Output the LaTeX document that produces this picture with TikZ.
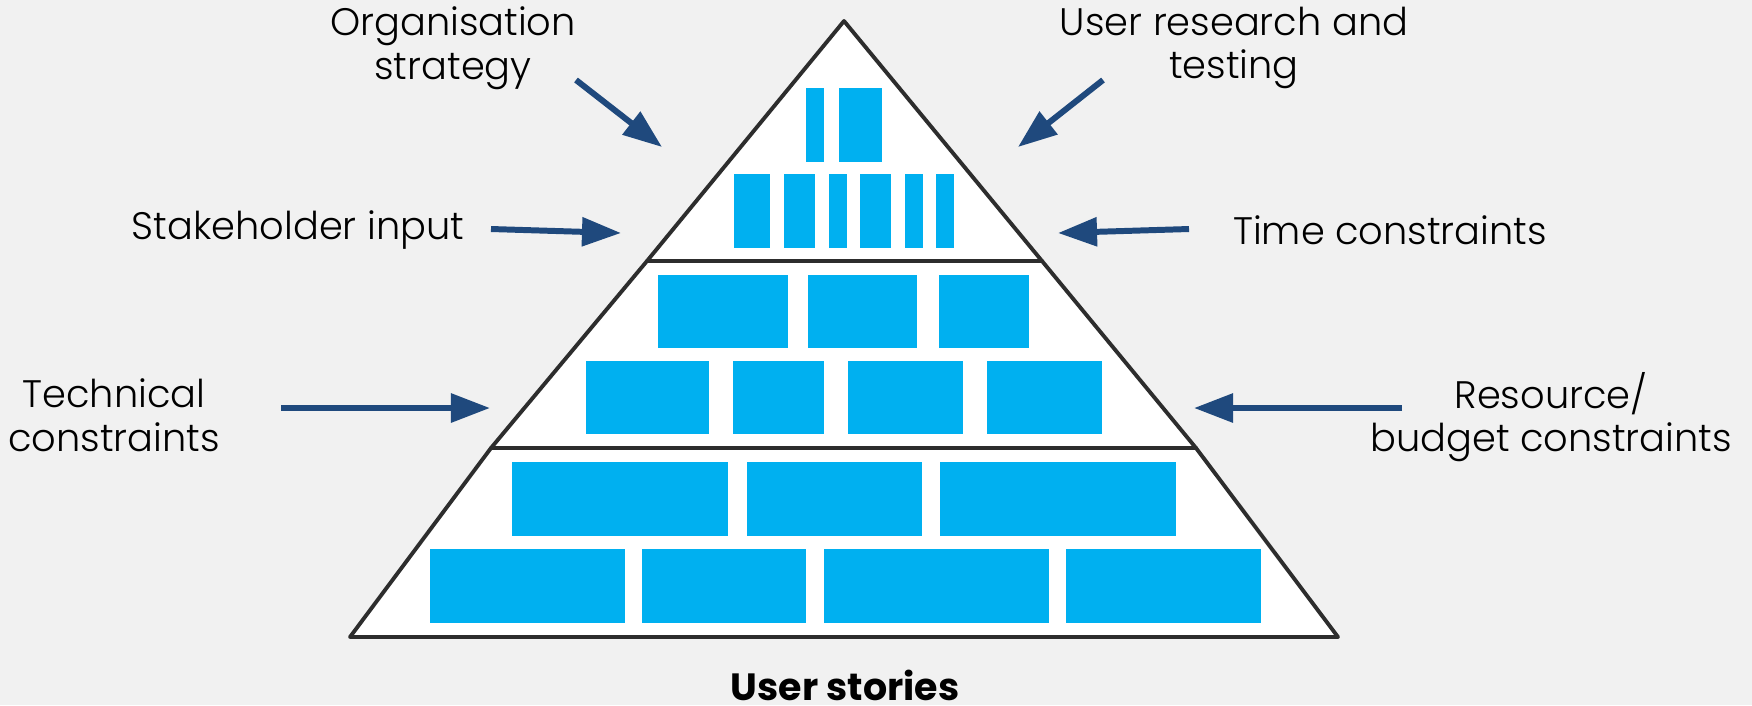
\documentclass[tikz,border=0pt]{standalone}
\usepackage{fontspec}
\setmainfont{Poppins}[UprightFont=* Light, BoldFont=* Bold]
\usetikzlibrary{arrows.meta,calc}
\definecolor{bggrey}{RGB}{241,241,241}
\definecolor{storyblue}{RGB}{0,176,240}
\definecolor{arrowblue}{RGB}{31,73,125}
\definecolor{edgegrey}{RGB}{45,45,45}
\tikzset{
  tier/.style  ={draw=edgegrey, fill=white, line width=1.1pt, line join=round},
  story/.style ={fill=storyblue},
  lbl/.style   ={align=center, font=\fontsize{10.9}{12.4}\selectfont, inner sep=0pt},
  inarr/.style ={-{Triangle[length=3.9mm,width=2.8mm]}, draw=arrowblue, line width=1.7pt},
}

\begin{document}
\begin{tikzpicture}[x=0.01cm, y=-0.01cm]
  \fill[bggrey] (0,0) rectangle (1752,705);
  \useasboundingbox (0,0) rectangle (1752,705);

  % pyramid corners
  \coordinate (apex) at (844,21);
  \coordinate (d1l) at (647,261);  \coordinate (d1r) at (1042,261);
  \coordinate (d2l) at (491,448);  \coordinate (d2r) at (1196,448);
  \coordinate (bl)  at (350,637);  \coordinate (br)  at (1338,637);

  \draw[tier] (apex) -- (d1l) -- (d1r) -- cycle;
  \draw[tier] (d1l) -- (d2l) -- (d2r) -- (d1r) -- cycle;
  \draw[tier] (d2l) -- (bl) -- (br) -- (d2r) -- cycle;

  % story cards, one row at a time
  \foreach \ya/\yb/\cols in {
      88/162/{806/824,839/882},
      174/248/{734/770,784/815,829/847,860/891,905/923,936/954},
      275/348/{658/788,808/917,939/1029},
      361/434/{586/709,733/824,848/963,987/1102},
      462/536/{512/728,747/922,940/1176},
      549/623/{430/625,642/806,824/1049,1066/1261}}
    \foreach \xa/\xb in \cols
      \fill[story] (\xa,\ya) rectangle (\xb,\yb);

  % inputs
  \node[lbl] (org)   at (453,48)   {Organisation\\strategy};
  \node[lbl] (ures)  at (1234,48)  {User research and\\testing};
  \node[lbl] (stake) at (298,230)  {Stakeholder input};
  \node[lbl] (time)  at (1390,230) {Time constraints};
  \node[lbl] (tech)  at (114,415)  {Technical\\constraints};
  \node[lbl] (res)   at (1551,417) {Resource/\\budget constraints};
  \node[lbl, font=\fontsize{10.8}{12.4}\selectfont\bfseries] (stories) at (845,685) {User stories};

  \coordinate (orgS) at (576,80);    \coordinate (orgT) at (662,147);
  \coordinate (uresS) at (1103,80);  \coordinate (uresT) at (1018,147);
  \coordinate (stakeS) at (491,229); \coordinate (stakeT) at (621,233);
  \coordinate (timeS) at (1189,229); \coordinate (timeT) at (1058,233);
  \coordinate (techS) at (281,408);  \coordinate (techT) at (490,408);
  \coordinate (resS) at (1402,408);  \coordinate (resT) at (1194,408);

  \draw[inarr] (orgS) -- (orgT);
  \draw[inarr] (uresS) -- (uresT);
  \draw[inarr] (stakeS) -- (stakeT);
  \draw[inarr] (timeS) -- (timeT);
  \draw[inarr] (techS) -- (techT);
  \draw[inarr] (resS) -- (resT);
\end{tikzpicture}
\end{document}
